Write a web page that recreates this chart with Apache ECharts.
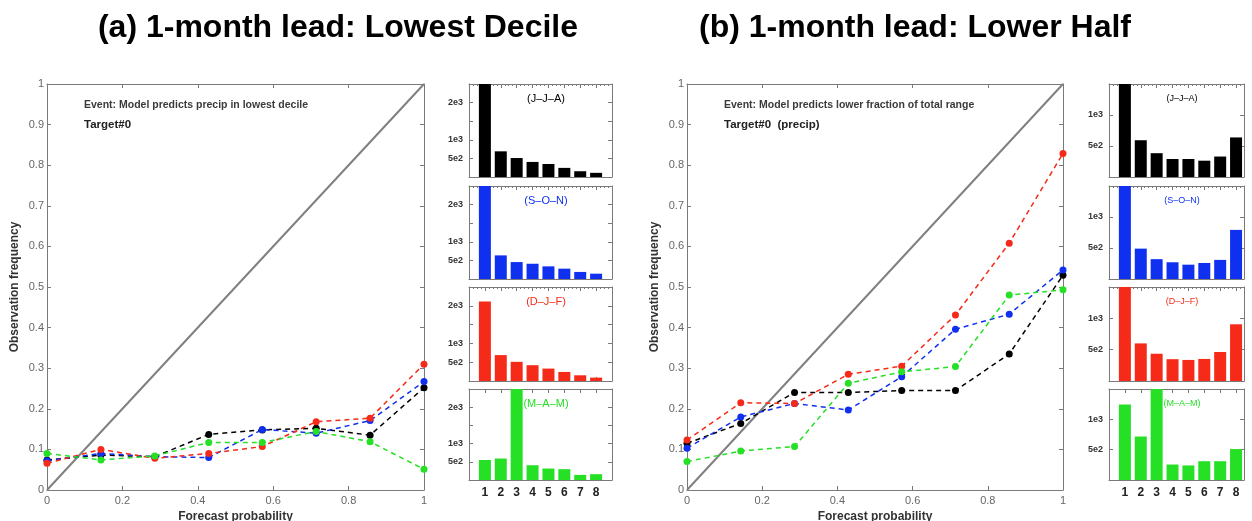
<!DOCTYPE html>
<html><head><meta charset="utf-8">
<script src="https://cdn.jsdelivr.net/npm/echarts@6/dist/echarts.min.js"></script>
<style>html,body{margin:0;padding:0;background:#fff}#c{width:1252px;height:521px}</style>
</head><body><div id="c"></div>
<script>
// ---------- DATA ----------
const probBins = [0, 0.143, 0.286, 0.429, 0.571, 0.714, 0.857, 1];
const seasons = ['(J–J–A)', '(S–O–N)', '(D–J–F)', '(M–A–M)'];
const seasonColors = ['#000000', '#1030f0', '#f52a18', '#25e025'];

// (a) Lowest decile: observation frequency per forecast-probability bin
const relA_JJA = [0.074, 0.086, 0.082, 0.137, 0.148, 0.152, 0.135, 0.252];
const relA_SON = [0.072, 0.090, 0.082, 0.080, 0.149, 0.140, 0.171, 0.267];
const relA_DJF = [0.066, 0.100, 0.078, 0.090, 0.107, 0.168, 0.177, 0.310];
const relA_MAM = [0.090, 0.074, 0.084, 0.117, 0.117, 0.144, 0.119, 0.051];

// (b) Lower half
const relB_JJA = [0.115, 0.164, 0.240, 0.240, 0.245, 0.245, 0.335, 0.529];
const relB_SON = [0.103, 0.180, 0.213, 0.197, 0.279, 0.396, 0.433, 0.542];
const relB_DJF = [0.123, 0.215, 0.213, 0.285, 0.305, 0.431, 0.608, 0.829];
const relB_MAM = [0.070, 0.096, 0.107, 0.263, 0.291, 0.304, 0.480, 0.493];

// histogram bins and counts
const histBins = [1, 2, 3, 4, 5, 6, 7, 8];
const histA_JJA = [2700, 690, 510, 405, 350, 245, 155, 112];
const histA_SON = [2700, 635, 455, 410, 340, 278, 190, 143];
const histA_DJF = [2116, 689, 510, 420, 330, 241, 152, 90];
const histA_MAM = [550, 590, 2700, 405, 315, 298, 140, 160];

const histB_JJA = [1600, 593, 384, 290, 290, 263, 330, 638];
const histB_SON = [1600, 490, 320, 270, 231, 258, 308, 792];
const histB_DJF = [1600, 600, 435, 348, 336, 352, 463, 905];
const histB_MAM = [1245, 717, 1600, 255, 240, 310, 310, 510];

const histTickValuesA = [500, 1000, 2000];
const histTickLabelsA = ['5e2', '1e3', '2e3'];
const histTickValuesB = [500, 1000];
const histTickLabelsB = ['5e2', '1e3'];

const diagonal = [[0, 0], [1, 1]];

const titleA = '(a) 1-month lead: Lowest Decile';
const titleB = '(b) 1-month lead: Lower Half';
const eventA = 'Event: Model predicts precip in lowest decile';
const eventB = 'Event: Model predicts lower fraction of total range';
const targetA = 'Target#0';
const targetB = 'Target#0  (precip)';

// ---------- BUILD ----------
const FF = '"Liberation Sans", Arial, Helvetica, sans-serif';
const AX = '#7a7a7a';
const grid = [], xAxis = [], yAxis = [], series = [], graphic = [];

function boxAxes(gi, xCfg, yCfg, xMain, yMain, xTop) {
  const base = {
    type: 'value', gridIndex: gi,
    axisLine: { show: true, onZero: false, lineStyle: { color: AX, width: 1 } },
    splitLine: { show: false },
    axisTick: { show: true, inside: true, length: 4, lineStyle: { color: AX } }
  };
  xAxis.push(Object.assign({}, base, xCfg, { position: 'bottom' }, xMain));
  xAxis.push(Object.assign({}, base, xCfg, { position: 'top', axisLabel: { show: false } }, xTop || {}));
  yAxis.push(Object.assign({}, base, yCfg, { position: 'left' }, yMain));
  yAxis.push(Object.assign({}, base, yCfg, { position: 'right', axisLabel: { show: false } }));
}

// reliability panels
const lineGrids = [
  { left: 47, top: 84, width: 377, height: 406 },
  { left: 687, top: 84, width: 376, height: 406 }
];
const relSets = [
  [relA_JJA, relA_SON, relA_DJF, relA_MAM],
  [relB_JJA, relB_SON, relB_DJF, relB_MAM]
];
lineGrids.forEach((g, k) => {
  const gi = grid.length;
  grid.push(Object.assign({ containLabel: false, outerBoundsMode: 'none' }, g));
  boxAxes(gi,
    { min: 0, max: 1, interval: 0.2 },
    { min: 0, max: 1, interval: 0.1 },
    { name: 'Forecast probability', nameLocation: 'middle', nameGap: 19,
      nameTextStyle: { fontFamily: FF, fontWeight: 'bold', fontSize: 12, color: '#333' },
      axisLabel: { fontFamily: FF, fontSize: 11, color: '#666', margin: 5 } },
    { name: 'Observation frequency', nameLocation: 'middle', nameGap: 26,
      nameTextStyle: { fontFamily: FF, fontWeight: 'bold', fontSize: 12, color: '#333' },
      axisLabel: { fontFamily: FF, fontSize: 11, color: '#666', margin: 3 } }
  );
  const xi = gi * 2, yi = gi * 2;
  series.push({
    type: 'line', xAxisIndex: xi, yAxisIndex: yi, data: diagonal,
    symbol: 'none', silent: true, z: 1,
    lineStyle: { color: '#808080', width: 2 }
  });
  relSets[k].forEach((vals, s) => {
    series.push({
      type: 'line', xAxisIndex: xi, yAxisIndex: yi,
      data: probBins.map((p, i) => [p, vals[i]]),
      symbol: 'circle', symbolSize: 7, z: 3,
      itemStyle: { color: seasonColors[s] },
      lineStyle: { color: seasonColors[s], width: 1.5, type: [5, 4] }
    });
  });
});

// histogram panels
const barTops = [84, 186, 287, 389];
const barHeights = [93, 93, 94, 91];
const histCols = [
  { left: 469, width: 143, xmax: 9, ymax: 2500, ticks: histTickValuesA, labels: histTickLabelsA,
    sets: [histA_JJA, histA_SON, histA_DJF, histA_MAM], labelX: 546, labelSize: 11 },
  { left: 1109, width: 135, xmax: 8.5, ymax: 1500, ticks: histTickValuesB, labels: histTickLabelsB,
    sets: [histB_JJA, histB_SON, histB_DJF, histB_MAM], labelX: 1182, labelSize: 9 }
];
histCols.forEach(col => {
  for (let p = 0; p < 4; p++) {
    const gi = grid.length;
    grid.push({ left: col.left, top: barTops[p], width: col.width, height: barHeights[p],
      containLabel: false, outerBoundsMode: 'none' });
    const last = p === 3;
    boxAxes(gi,
      { min: 0, max: col.xmax, interval: 1 },
      { min: 0, max: col.ymax, interval: 500 },
      { axisLabel: { show: last, fontFamily: FF, fontSize: 12, fontWeight: 'bold', color: '#222', margin: 7,
          formatter: v => (v >= 1 && v <= 8) ? String(v) : '' },
        axisTick: { show: true, inside: true, length: 4, lineStyle: { color: AX } } },
      { axisLabel: { fontFamily: FF, fontSize: 9, fontWeight: 'bold', color: '#333', margin: 6,
          formatter: v => { const k = col.ticks.indexOf(v); return k >= 0 ? col.labels[k] : ''; } } },
      last ? null : { minorTick: { show: true, splitNumber: 4, length: 2, lineStyle: { color: AX } } }
    );
    const vals = col.sets[p];
    series.push({
      type: 'bar', xAxisIndex: gi * 2, yAxisIndex: gi * 2,
      data: histBins.map((b, i) => [b, vals[i]]),
      barWidth: 12, clip: true,
      itemStyle: { color: seasonColors[p] }
    });
    graphic.push({
      type: 'text', x: col.labelX, y: barTops[p] + 15, z: 10,
      style: { text: seasons[p], fill: seasonColors[p], font: `${col.labelSize}px ${FF}`,
        align: 'center', verticalAlign: 'middle' }
    });
  }
});

// titles & annotations
[[titleA, 338], [titleB, 915]].forEach(([t, x]) => graphic.push({
  type: 'text', x: x, y: 28,
  style: { text: t, fill: '#000', font: `bold 32px ${FF}`, align: 'center', verticalAlign: 'middle' }
}));
[[eventA, targetA, 84], [eventB, targetB, 724]].forEach(([e, t, x]) => {
  graphic.push({ type: 'text', x: x, y: 105, z: 10,
    style: { text: e, fill: '#3a3a3a', font: `bold 10.5px ${FF}`, align: 'left', verticalAlign: 'middle' } });
  graphic.push({ type: 'text', x: x, y: 125, z: 10,
    style: { text: t, fill: '#222', font: `bold 11.5px ${FF}`, align: 'left', verticalAlign: 'middle' } });
});

const chart = echarts.init(document.getElementById('c'), null, { renderer: 'canvas' });
chart.setOption({
  animation: false,
  backgroundColor: '#fff',
  textStyle: { fontFamily: FF },
  grid, xAxis, yAxis, series, graphic
});
</script></body></html>
